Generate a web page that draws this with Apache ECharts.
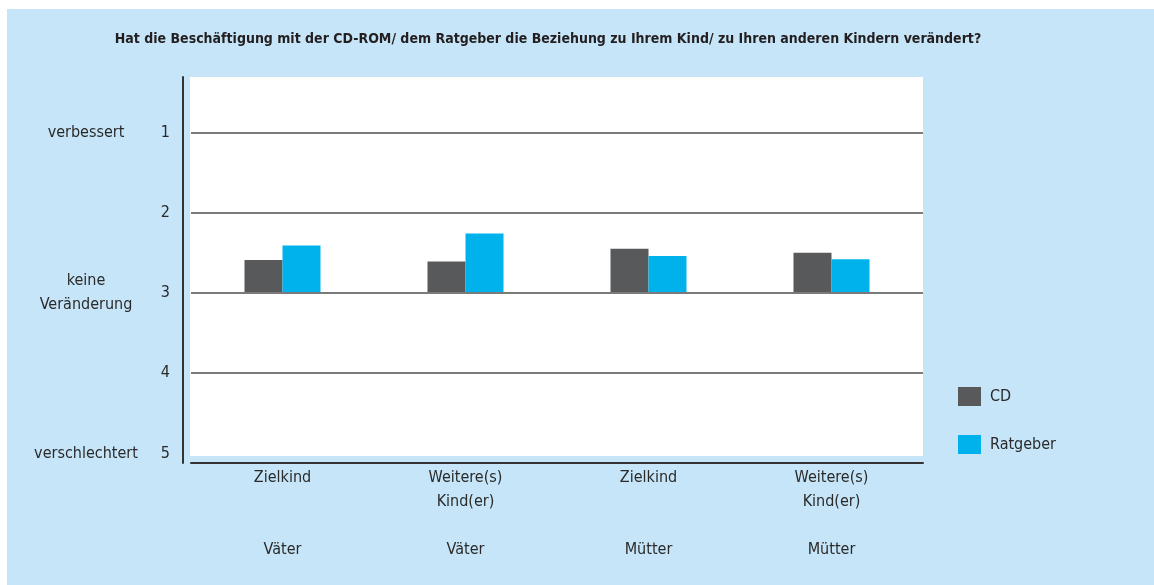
<!DOCTYPE html>
<html>
<head>
<meta charset="utf-8">
<script src="https://cdn.jsdelivr.net/npm/echarts@6/dist/echarts.min.js"></script>
<style>
  html, body { margin: 0; padding: 0; background: #ffffff; }
  #frame { position: absolute; left: 7px; top: 9px; right: 0; bottom: 0; background: #c6e5f8; }
  #chart { position: absolute; left: 0; top: 0; width: 1154px; height: 585px; }
</style>
</head>
<body>
<div id="frame"></div>
<div id="chart"></div>
<script>
const title = "Hat die Beschäftigung mit der CD-ROM/ dem Ratgeber die Beziehung zu Ihrem Kind/ zu Ihren anderen Kindern verändert?";
const categories = ["Zielkind", "Weitere(s)\nKind(er)", "Zielkind", "Weitere(s)\nKind(er)"];
const groups = ["Väter", "Väter", "Mütter", "Mütter"];
const cdValues = [2.59, 2.61, 2.45, 2.50];
const ratgeberValues = [2.41, 2.26, 2.54, 2.58];
const scaleTicks = [1, 2, 3, 4, 5];
const scaleNames = { 1: "verbessert", 3: "keine\nVeränderung", 5: "verschlechtert" };
const gridLines = [1, 2, 3, 4];
const baseline = 3;

const font = "'Liberation Sans Narrow', 'DejaVu Sans Condensed', 'Roboto', sans-serif";
const textColor = "#2a2a2a";
const chart = echarts.init(document.getElementById("chart"));

function base(name, stack, values) {
  return {
    name,
    type: "bar",
    stack,
    barWidth: 38,
    barGap: "0%",
    silent: true,
    itemStyle: { color: "transparent" },
    data: values,
  };
}

function shown(name, stack, values, color) {
  return {
    name,
    type: "bar",
    stack,
    barWidth: 38,
    barGap: "0%",
    itemStyle: { color },
    data: values.map((v) => baseline - v),
  };
}

const valueAxis = {
  type: "value",
  inverse: true,
  min: 0.31,
  max: 5.12,
  splitLine: { show: false },
  axisTick: { show: false },
};

chart.setOption({
  animation: false,
  textStyle: { fontFamily: font },
  title: {
    text: title,
    left: 543,
    textAlign: "center",
    top: 27,
    textStyle: { fontFamily: font, fontSize: 14, fontWeight: "bold", color: "#231f20" },
  },
  graphic: [
    { type: "rect", z: -1, shape: { x: 190, y: 77, width: 733, height: 379 }, style: { fill: "#ffffff" } },
  ],
  legend: {
    orient: "vertical",
    left: 953,
    top: 382,
    icon: "rect",
    itemWidth: 23,
    itemHeight: 19,
    itemGap: 29,
    data: ["CD", "Ratgeber"],
    textStyle: { fontFamily: font, fontSize: 16, color: textColor, padding: [0, 0, 0, 4] },
  },
  grid: { left: 191, right: 231, top: 77, bottom: 122 },
  xAxis: {
    type: "category",
    data: categories,
    axisLine: { lineStyle: { color: "#333333", width: 2 } },
    axisTick: { show: false },
    axisLabel: {
      margin: 3,
      fontSize: 16,
      lineHeight: 24,
      color: textColor,
      fontFamily: font,
      formatter: (value, index) => {
        const lines = value.split("\n");
        while (lines.length < 3) lines.push("");
        return lines.join("\n") + "\n" + groups[index];
      },
    },
  },
  yAxis: [
    {
      ...valueAxis,
      offset: 8,
      axisLine: { show: true, lineStyle: { color: "#333333", width: 2 } },
      axisLabel: {
        customValues: scaleTicks,
        margin: 13,
        fontSize: 16,
        color: textColor,
        fontFamily: font,
      },
    },
    {
      ...valueAxis,
      position: "left",
      axisLine: { show: false },
      axisLabel: {
        customValues: Object.keys(scaleNames).map(Number),
        formatter: (v) => scaleNames[v] || "",
        align: "center",
        margin: 105,
        fontSize: 16,
        lineHeight: 24,
        color: textColor,
        fontFamily: font,
      },
    },
  ],
  series: [
    {
      ...base("cdBase", "cd", cdValues),
      markLine: {
        silent: true,
        symbol: "none",
        label: { show: false },
        lineStyle: { color: "#7a7a7a", width: 2, type: "solid" },
        data: gridLines.map((v) => ({ yAxis: v })),
      },
    },
    shown("CD", "cd", cdValues, "#58595b"),
    base("ratBase", "rat", ratgeberValues),
    shown("Ratgeber", "rat", ratgeberValues, "#00b2ec"),
  ],
});
</script>
</body>
</html>
